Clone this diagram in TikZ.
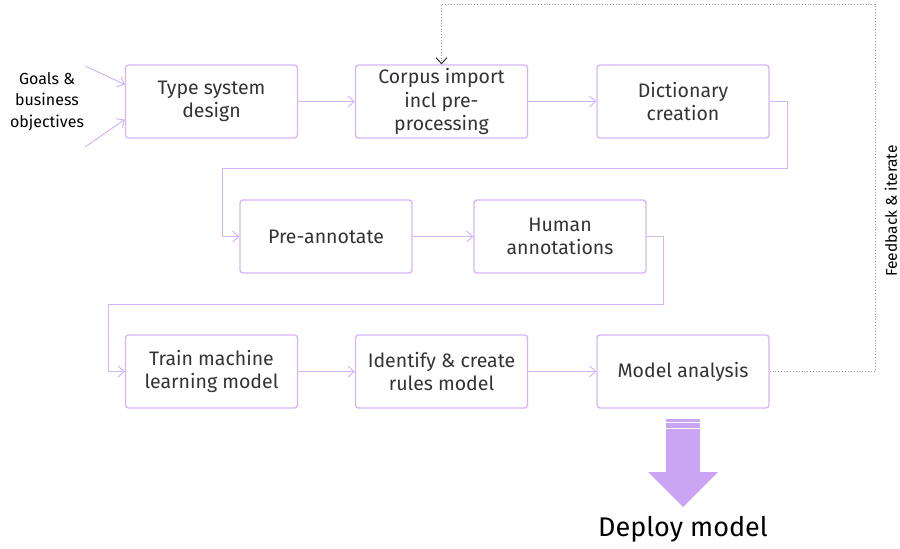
\documentclass[tikz,border=0pt]{standalone}
\usepackage{fontspec}
\setmainfont{Fira Sans}[Scale=1]
\usetikzlibrary{arrows.meta}
\definecolor{lav}{HTML}{D3B5F7}
\definecolor{lavfill}{HTML}{CAA5F4}
\definecolor{ink}{HTML}{333333}
\begin{document}
\begin{tikzpicture}[x=1pt,y=-1pt,
  thick,main node/.style={rectangle,rounded corners=3pt,draw=lav,line width=1.3pt,
    minimum width=172pt,minimum height=73pt,align=center,text=ink,
    font=\fontsize{19.5}{23.5}\selectfont,inner sep=0pt},
  flow/.style={draw=lav,line width=1pt,-{Straight Barb[length=6pt,width=11pt]}},
  back/.style={draw=gray!80,line width=0.9pt,dotted,-{Straight Barb[length=6pt,width=11pt,color=ink,line width=1pt,sep=0pt]}}]
  \useasboundingbox (0,0) rectangle (900,549);

  \node[main node] (1) at (211.5,101.5) {Type system\\design};
  \node[main node] (2) at (441.5,101.5) {Corpus import\\incl pre-\\processing};
  \node[main node] (3) at (683,101.5) {Dictionary\\creation};
  \node[main node] (4) at (326,236.5) {Pre-annotate};
  \node[main node] (5) at (560,236.5) {Human\\annotations};
  \node[main node] (6) at (211.5,371.5) {Train machine\\learning model};
  \node[main node] (7) at (441.5,371.5) {Identify \& create\\rules model};
  \node[main node] (8) at (683,371.5) {Model analysis};

  \node[align=center,text=black,font=\fontsize{16}{21.5}\selectfont] (goals) at (47,101.5) {Goals \&\\business\\objectives};
  \coordinate (g1) at (85,66);
  \coordinate (g2) at (85,147);
  \node[rotate=90,text=black,font=\fontsize{15.5}{20}\selectfont] (fb) at (891,211) {Feedback \& iterate};
  \node[text=black,font=\fontsize{27}{32}\selectfont] (deploy) at (683,529) {Deploy model};

  \path[flow] (g1) -- ([yshift=17pt]1.west);
  \path[flow] (g2) -- ([yshift=-18pt]1.west);
  \path[flow] (1) -- (2);
  \path[flow] (2) -- (3);
  \path[flow] (3.east) -- ++(18,0) |- (222,168) |- (4.west);
  \path[flow] (4) -- (5);
  \path[flow] (5.east) -- ++(17,0) |- (108,304) |- (6.west);
  \path[flow] (6) -- (7);
  \path[flow] (7) -- (8);
  \path[back] (8.east) -| (875,4) -| (2.north);

  % deploy arrow
  \fill[lavfill] (666,419) rectangle (700,421.5);
  \fill[lavfill] (666,423) rectangle (700,427.5);
  \fill[lavfill] (666,429) -- (700,429) -- (700,472) -- (718,472) -- (683,507)
    -- (648,472) -- (666,472) -- cycle;
\end{tikzpicture}
\end{document}
